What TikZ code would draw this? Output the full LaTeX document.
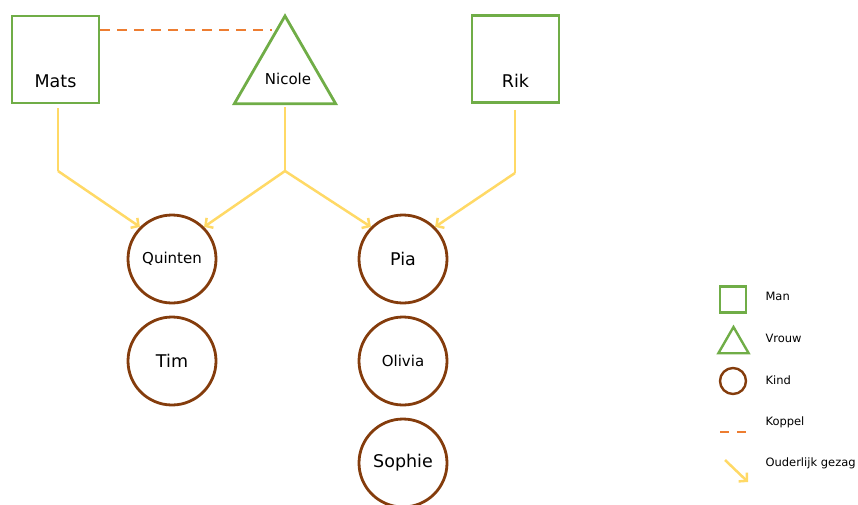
\documentclass[tikz,border=0pt]{standalone}
\usepackage{fontspec}
\setmainfont{DejaVu Sans}
\usetikzlibrary{arrows.meta,shapes.geometric}

\definecolor{mangreen}{HTML}{70AD47}
\definecolor{coupleorange}{HTML}{ED7D31}
\definecolor{custodyyellow}{HTML}{FFD966}
\definecolor{childbrown}{HTML}{843C0C}

\tikzset{
  man/.style={draw=mangreen, line width=2.8pt, minimum size=87pt, inner sep=0pt},
  woman/.style={draw=mangreen, line width=2.8pt, regular polygon, regular polygon sides=3,
                minimum size=117pt, inner sep=0pt},
  child/.style={draw=childbrown, line width=2.8pt, circle, minimum size=88pt, inner sep=0pt},
  bigname/.style={font=\fontsize{17.5}{19}\selectfont, text=black},
  smallname/.style={font=\fontsize{15}{17}\selectfont, text=black},
  legendtext/.style={font=\fontsize{11.5}{13}\selectfont, anchor=west, text=black},
  couple/.style={draw=coupleorange, line width=2.6pt, dash pattern=on 10pt off 7pt},
  custody/.style={draw=custodyyellow, line width=2.5pt,
                  -{Straight Barb[length=5.5pt,width=12pt,line width=2.5pt]}},
  custodyline/.style={draw=custodyyellow, line width=2.5pt},
}

\begin{document}
\begin{tikzpicture}[x=1pt, y=-1pt]
\useasboundingbox (0,0) rectangle (858,504);

% parents
\node[man] (mats) at (55.5,59.5) {};
\node[bigname] (matsname) at (55.5,81) {Mats};
\node[woman] (nicole) at (285,74.5) {};
\node[smallname] (nicolename) at (288,79) {Nicole};
\node[man] (rik) at (515.5,59) {};
\node[bigname] (rikname) at (515.5,81) {Rik};

% couple
\coordinate (coupleend) at (272,30);
\draw[couple] (mats.east |- coupleend) -- (coupleend);

% children
\node[child] (quinten) at (172,259) {};
\node[smallname] at (quinten) {Quinten};
\node[child] (tim) at (172,361) {};
\node[bigname] at (tim) {Tim};
\node[child] (pia) at (403,259) {};
\node[bigname] at (pia) {Pia};
\node[child] (olivia) at (403,361) {};
\node[smallname] at (olivia) {Olivia};
\node[child] (sophie) at (403,463) {};
\node[bigname] at (sophie) {Sophie};

% parental custody
\coordinate (jm) at (58,171);
\coordinate (jn) at (285,171);
\coordinate (jr) at (515,173);
\draw[custodyline] ([yshift=-4pt]mats.south -| jm) -- (jm);
\draw[custody] (jm) -- (quinten.135);
\draw[custodyline] ([yshift=-2pt]nicole.south) -- (jn);
\draw[custody] (jn) -- (quinten.45);
\draw[custody] (jn) -- (pia.135);
\draw[custodyline] ([yshift=-6pt]rik.south -| jr) -- (jr);
\draw[custody] (jr) -- (pia.45);

% legend
\node[man, minimum size=26pt, line width=2.4pt] (lman) at (733,299.5) {};
\node[legendtext] (lmantext) at (762,296) {Man};
\node[woman, minimum size=35pt, line width=2.4pt] (lwoman) at (733.5,344.5) {};
\node[legendtext] (lwomantext) at (762,338) {Vrouw};
\node[child, minimum size=26pt, line width=2.4pt] (lchild) at (733,381) {};
\node[legendtext] (lchildtext) at (762,380) {Kind};
\coordinate (lcouplea) at (720,432);
\coordinate (lcoupleb) at (747,432);
\draw[couple, dash pattern=on 9pt off 8pt] (lcouplea) -- (lcoupleb);
\node[legendtext] (lcoupletext) at (762,422) {Koppel};
\coordinate (lcustodya) at (725,460);
\coordinate (lcustodyb) at (748,482);
\draw[custody] (lcustodya) -- (lcustodyb);
\node[legendtext] (lcustodytext) at (762,463) {Ouderlijk gezag};
\end{tikzpicture}
\end{document}
